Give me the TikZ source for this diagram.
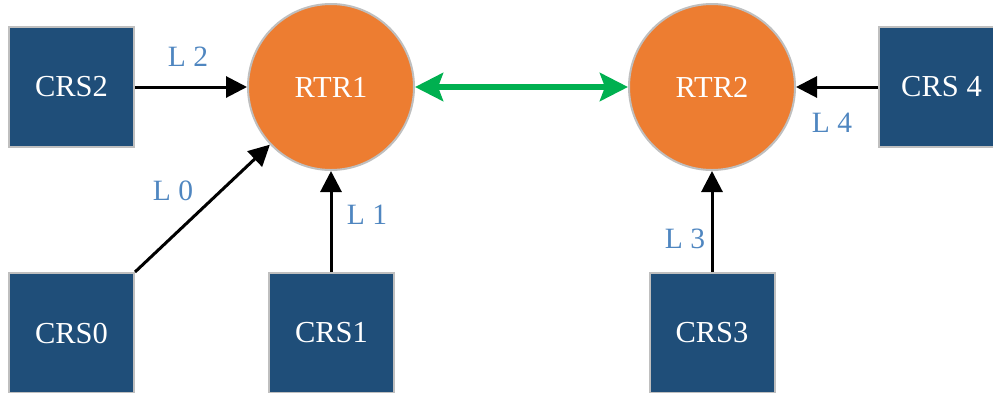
\documentclass[tikz,border=0pt]{standalone}
\usepackage{fontspec}
\setmainfont{Liberation Serif}
\usetikzlibrary{arrows.meta}
\definecolor{crsblue}{RGB}{31,78,121}
\definecolor{rtrorange}{RGB}{237,125,49}
\definecolor{lblblue}{RGB}{79,134,192}
\definecolor{linkgreen}{RGB}{0,176,80}
\definecolor{rimgray}{RGB}{191,191,191}
\begin{document}
\begin{tikzpicture}[
    x=1pt, y=-1pt,
    crs/.style={draw=rimgray, line width=2pt, fill=crsblue, text=white,
      minimum width=125pt, minimum height=120pt, inner sep=0pt,
      font=\fontsize{30.5}{36}\selectfont},
    rtr/.style={circle, draw=rimgray, line width=2pt, fill=rtrorange, text=white,
      minimum size=166pt, inner sep=0pt, font=\fontsize{30.5}{36}\selectfont},
    lnk/.style={line width=3pt, -{Triangle[length=21pt,width=21pt]}},
    lbl/.style={text=lblblue, font=\fontsize{29.5}{34}\selectfont, inner sep=0pt},
  ]
    \useasboundingbox (0,0) rectangle (993,392);
    % Routers
    \node[rtr] (rtr1) at (331,87) {RTR1};
    \node[rtr] (rtr2) at (712,87) {RTR2};
    % Switches
    \node[crs] (crs2) at (71.5,87) {CRS2};
    \node[crs] (crs4) at (941.5,87) {CRS 4};
    \node[crs] (crs0) at (71.5,333) {CRS0};
    \node[crs] (crs1) at (331.5,333) {CRS1};
    \node[crs] (crs3) at (712,333) {CRS3};
    % Links
    \draw[lnk] (crs2) -- (rtr1);
    \draw[lnk] (crs0.north east) -- (rtr1);
    \draw[lnk] (crs1.north -| rtr1) -- (rtr1);
    \draw[lnk] (crs3) -- (rtr2);
    \draw[lnk] (crs4) -- (rtr2);
    \draw[linkgreen, line width=6pt,
      {Stealth[length=28pt,width=28pt,inset=5pt]}-{Stealth[length=28pt,width=28pt,inset=5pt]}]
      (rtr1) -- (rtr2);
    % Link labels
    \node[lbl] (l2) at (188,57) {L 2};
    \node[lbl] (l0) at (173,191) {L 0};
    \node[lbl] (l1) at (367,215) {L 1};
    \node[lbl] (l3) at (685,239) {L 3};
    \node[lbl] (l4) at (832,123) {L 4};
  \end{tikzpicture}
\end{document}
